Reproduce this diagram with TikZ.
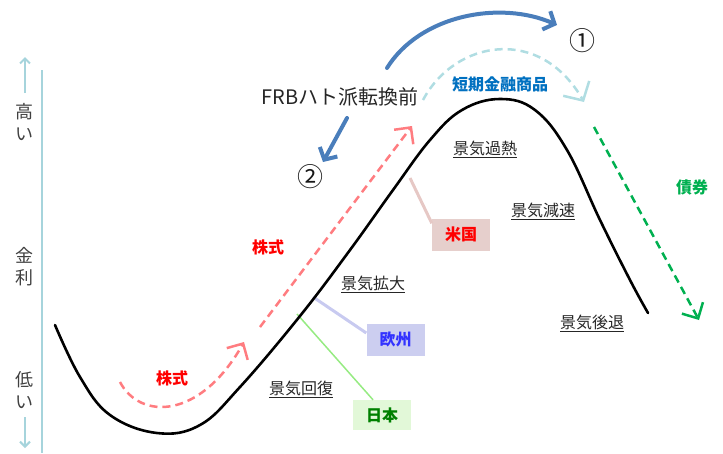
\documentclass[tikz,border=0pt]{standalone}
\usepackage{fontspec}
\setmainfont{Noto Sans CJK JP}
\usetikzlibrary{arrows.meta}
\definecolor{axisc}{RGB}{166,212,220}
\definecolor{bluea}{RGB}{74,126,187}
\definecolor{cyand}{RGB}{176,221,226}
\definecolor{redd}{RGB}{255,124,128}
\definecolor{greend}{RGB}{0,176,80}
\definecolor{tanki}{RGB}{0,112,192}
\definecolor{usbg}{RGB}{230,207,204}
\definecolor{usln}{RGB}{230,200,197}
\definecolor{eubg}{RGB}{204,206,240}
\definecolor{euln}{RGB}{200,202,240}
\definecolor{eutx}{RGB}{51,51,255}
\definecolor{jpbg}{RGB}{226,248,216}
\definecolor{jpln}{RGB}{150,235,130}
\definecolor{jptx}{RGB}{0,128,0}
\begin{document}
\begin{tikzpicture}[x=1pt,y=-1pt,
  lbl/.style={font=\fontsize{16}{18}\selectfont, inner sep=1pt, text=black!85},
  axtext/.style={font=\fontsize{18}{22}\selectfont, text=black!75, align=center, inner sep=0pt},
  reg/.style={font=\bfseries\fontsize{16}{18}\selectfont, minimum width=58pt, minimum height=32pt, inner sep=0pt},
  axarrow/.style={draw=axisc, line width=2pt, -{Straight Barb[length=5pt,width=10pt]}},
  bluearrow/.style={draw=bluea, line width=4pt, line cap=round, -{Straight Barb[length=9pt,width=20pt]}},
  dashedarrow/.style={line width=2.5pt, dash pattern=on 8pt off 5pt},
  curvestyle/.style={line width=2.6pt, black, line cap=round}
]
\useasboundingbox (0,0) rectangle (723,453);

% axis
\draw[axisc, line width=1.2pt] (42,70) -- (42,453);
\coordinate (ua) at (25,93); \coordinate (ub) at (25,57);
\coordinate (da) at (25,417); \coordinate (db) at (25,448);
\draw[axarrow] (ua) -- (ub);
\draw[axarrow] (da) -- (db);
\node[axtext] (high) at (25,122) {高\\い};
\node[axtext] (rate) at (25,267) {金\\利};
\node[axtext] (low) at (25,390) {低\\い};

% region boxes
\node[reg, fill=usbg, text=red] (us) at (461,234.5) {米国};
\node[reg, fill=eubg, text=eutx] (eu) at (395.5,339.5) {欧州};
\node[reg, fill=jpbg, text=jptx, minimum height=30pt] (jp) at (382,415) {日本};
\coordinate (cus) at (410,178);
\coordinate (ceu) at (313,297);
\coordinate (cjp) at (297,314);
\draw[usln, line width=3pt] (cus) -- ([yshift=-5pt]us.north west);
\draw[euln, line width=3pt] (ceu) -- ([yshift=6.5pt]eu.west);
\draw[jpln, line width=1.5pt] (cjp) -- ([xshift=-9pt]jp.north);

% business cycle curve
\draw[curvestyle] plot[smooth, tension=0.65] coordinates {(55,325) (80,377) (110,415) (157,433) (200,425) (240,387) (300,316) (350,250) (393,190) (430,140) (462,110) (500,99) (535,110) (567,150) (600,220) (630,280) (648,313)};

% blue arrows
\coordinate (b1s) at (387,68); \coordinate (b1e) at (557,25);
\draw[bluearrow] (b1s) .. controls (420,15) and (500,0) .. (b1e);
\coordinate (b2s) at (347,118); \coordinate (b2e) at (323,162);
\draw[bluearrow] (b2s) -- (b2e);

% light blue dashed arc
\coordinate (c1s) at (423,100); \coordinate (c1e) at (584,102);
\draw[cyand, dashedarrow, -{Straight Barb[length=14pt,width=30pt]}] (c1s) .. controls (455,40) and (540,25) .. (c1e);

% red dashed arrows
\coordinate (r1s) at (260,327); \coordinate (r1e) at (412,126);
\draw[redd, dashedarrow, -{Straight Barb[length=12pt,width=24pt]}] (r1s) -- (r1e);
\coordinate (r2s) at (120,382); \coordinate (r2e) at (244,342);
\draw[redd, dashedarrow, -{Straight Barb[length=12pt,width=24pt]}] (r2s) .. controls (140,420) and (200,420) .. (r2e);

% green dashed arrow
\coordinate (g1s) at (594,127); \coordinate (g1e) at (699,320);
\draw[greend, dashedarrow, -{Straight Barb[length=12pt,width=24pt]}] (g1s) -- (g1e);

% texts
\node[font=\fontsize{20}{22}\selectfont, text=black!85, inner sep=0pt] (frb) at (340,97) {FRBハト派転換前};
\node[font=\fontsize{26}{28}\selectfont, text=black!90, inner sep=0pt] (one) at (582,41) {①};
\node[font=\fontsize{26}{28}\selectfont, text=black!90, inner sep=0pt] (two) at (310,177) {②};
\node[font=\bfseries\fontsize{16}{18}\selectfont, text=tanki, inner sep=0pt] (tanki) at (500,84) {短期金融商品};
\node[font=\bfseries\fontsize{16}{18}\selectfont, text=red, inner sep=0pt] (kab1) at (268,247) {株式};
\node[font=\bfseries\fontsize{16}{18}\selectfont, text=red, inner sep=0pt] (kab2) at (172,378) {株式};
\node[font=\bfseries\fontsize{16}{18}\selectfont, text=greend, inner sep=0pt] (bond) at (692,187) {債券};

\node[lbl] (kanetsu) at (485,149) {\underline{景気過熱}};
\node[lbl] (gensoku) at (543,211) {\underline{景気減速}};
\node[lbl] (kotai) at (592,323) {\underline{景気後退}};
\node[lbl] (kakudai) at (373,284) {\underline{景気拡大}};
\node[lbl] (kaifuku) at (301,389) {\underline{景気回復}};
\end{tikzpicture}
\end{document}
